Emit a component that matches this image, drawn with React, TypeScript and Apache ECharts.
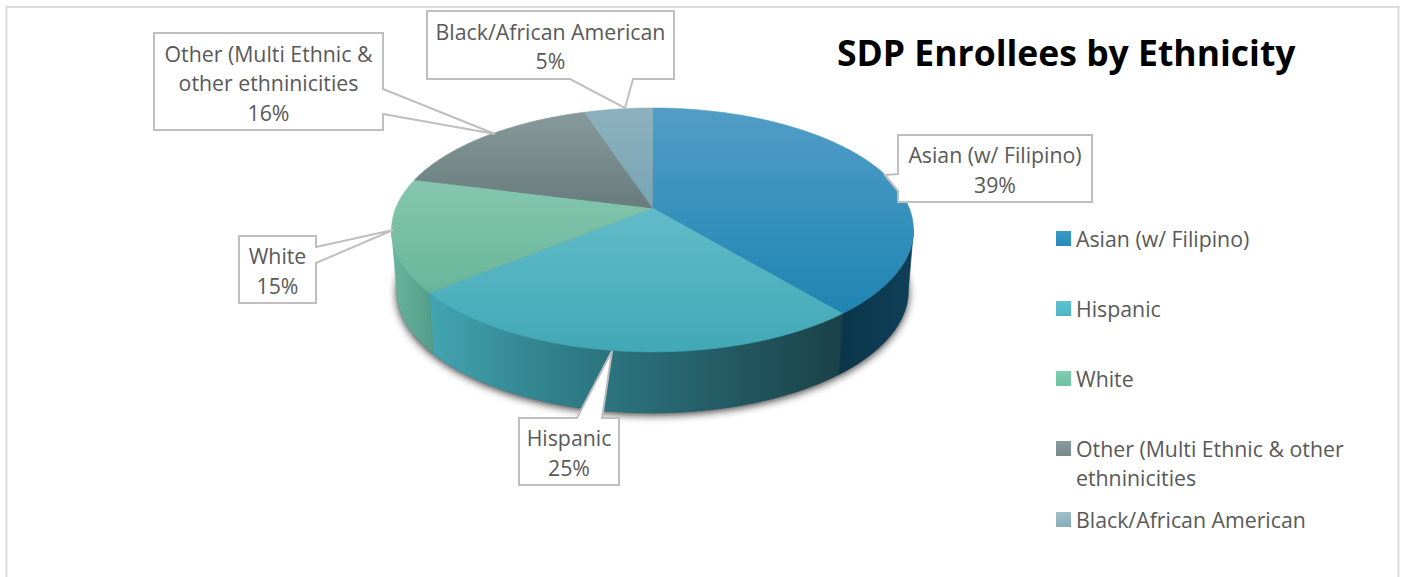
import React, { useEffect, useRef } from "react";
import * as echarts from "echarts";

const chartTitle = "SDP Enrollees by Ethnicity";
const categories = [
  "Asian (w/ Filipino)",
  "Hispanic",
  "White",
  "Other (Multi Ethnic & other ethninicities",
  "Black/African American",
];
const percents = [39, 25, 15, 16, 5];
const calloutLines = [
  ["Asian (w/ Filipino)"],
  ["Hispanic"],
  ["White"],
  ["Other (Multi Ethnic &", "other ethninicities"],
  ["Black/African American"],
];

// Projection of the pie: a tilted disc seen in perspective.
const PIE = { cx: 652.5, cy: 208, a: 256.7, b: 118, p: 0.18, depth: 61, baseScale: 0.98 };
const FONT = '"Open Sans", sans-serif';
const FONT_SIZE = 21.3;
const TEXT_COLOR = "#595959";
const LINE_COLOR = "#bfbfbf";

const topStops = [
  ["#519dc6", "#1f85b3"],
  ["#62bbc8", "#42a8b6"],
  ["#85c7ae", "#68b59b"],
  ["#86999b", "#687c7e"],
  ["#8db0bd", "#78a5b5"],
];
const sideStops: [number, string][][] = [
  [[0, "#0b3549"], [1, "#0f4058"]],
  [[0, "#43a5b1"], [0.3, "#30808b"], [0.6, "#27656f"], [1, "#1a4148"]],
  [[0, "#6ab39c"], [1, "#529d88"]],
  [[0, "#666"], [1, "#666"]],
  [[0, "#666"], [1, "#666"]],
];
const legendStops = [
  ["#3a9bca", "#2a8bb8"],
  ["#5cc3d2", "#4fb5c4"],
  ["#7fceb0", "#6fc2a4"],
  ["#8a9c9e", "#76898b"],
  ["#9dbfca", "#88adba"],
];
const legendTops = [228, 298, 368, 438, 509];

// Callout boxes: rectangle plus the wedge that points at the slice.
const callouts = [
  { x0: 898, y0: 135, x1: 1092, y1: 202, side: "left", w0: 174, w1: 191, tip: [885, 175] },
  { x0: 519, y0: 418, x1: 619, y1: 485, side: "top", w0: 577, w1: 602, tip: [612, 351] },
  { x0: 239, y0: 236, x1: 316, y1: 303, side: "right", w0: 247, w1: 263, tip: [393, 230] },
  { x0: 154, y0: 33, x1: 383, y1: 130, side: "right", w0: 89, w1: 114, tip: [495, 134] },
  { x0: 427, y0: 11, x1: 674, y1: 79, side: "bottom", w0: 570, w1: 633, tip: [625, 108] },
];

const STEP = (2 * Math.PI) / 360;
const FRONT_FROM = Math.PI - Math.acos(PIE.p);
const FRONT_TO = Math.PI + Math.acos(PIE.p);

function rim(theta: number, lower: boolean): number[] {
  const u = Math.sin(theta);
  const v = -Math.cos(theta);
  const d = 1 - PIE.p * v;
  const scale = lower ? PIE.baseScale : 1;
  return [
    PIE.cx + (scale * PIE.a * u) / d,
    PIE.cy + (lower ? PIE.depth : 0) + (PIE.b * v) / d,
  ];
}

function arcPoints(from: number, to: number, lower: boolean): number[][] {
  const out: number[][] = [];
  const n = Math.max(2, Math.ceil((to - from) / STEP));
  for (let i = 0; i <= n; i++) out.push(rim(from + ((to - from) * i) / n, lower));
  return out;
}

function linear(x2: number, y2: number, stops: [number, string][]) {
  return new echarts.graphic.LinearGradient(
    0,
    0,
    x2,
    y2,
    stops.map(([offset, color]) => ({ offset, color }))
  );
}

function sliceSeries(name: string, index: number) {
  const before = percents.slice(0, index).reduce((s, v) => s + v, 0);
  return {
    type: "custom",
    name,
    coordinateSystem: "none",
    silent: true,
    z: 3,
    data: [[percents[index]]],
    itemStyle: { color: legendStops[index][0] },
    renderItem: (_: unknown, api: any) => {
      const start = (before / 100) * 2 * Math.PI;
      const end = ((before + api.value(0)) / 100) * 2 * Math.PI;
      const children: any[] = [];
      const sideFrom = Math.max(start, FRONT_FROM);
      const sideTo = Math.min(end, FRONT_TO);
      if (sideTo > sideFrom) {
        const sideFill = linear(1, 0, sideStops[index]);
        children.push({
          type: "polygon",
          shape: {
            points: [
              ...arcPoints(sideFrom, sideTo, false),
              ...arcPoints(sideFrom, sideTo, true).reverse(),
            ],
          },
          style: { fill: sideFill, stroke: sideFill, lineWidth: 0.6 },
        });
      }
      const topFill = linear(0, 1, [
        [0, topStops[index][0]],
        [1, topStops[index][1]],
      ]);
      children.push({
        type: "polygon",
        shape: { points: [[PIE.cx, PIE.cy], ...arcPoints(start, end, false)] },
        style: { fill: topFill, stroke: topFill, lineWidth: 0.6 },
      });
      return { type: "group", children };
    },
  };
}

// Dark blurred disc under the pie, giving it a soft drop shadow.
const baseSeries = {
  type: "custom",
  name: "base",
  coordinateSystem: "none",
  silent: true,
  z: 1,
  data: [[100]],
  renderItem: (_: unknown, api: any) => ({
    type: "polygon",
    shape: { points: arcPoints(0, (api.value(0) / 100) * 2 * Math.PI, true) },
    style: {
      fill: "#3a3a3a",
      shadowColor: "rgba(0,0,0,0.8)",
      shadowBlur: 8,
      shadowOffsetY: 2,
    },
  }),
};

function calloutGraphic(index: number) {
  const c = callouts[index];
  const tip = c.tip;
  let pts: number[][] = [];
  if (c.side === "left") {
    pts = [[c.x0, c.y0], [c.x1, c.y0], [c.x1, c.y1], [c.x0, c.y1], [c.x0, c.w1], tip, [c.x0, c.w0]];
  } else if (c.side === "right") {
    pts = [[c.x0, c.y0], [c.x1, c.y0], [c.x1, c.w0], tip, [c.x1, c.w1], [c.x1, c.y1], [c.x0, c.y1]];
  } else if (c.side === "top") {
    pts = [[c.x0, c.y0], [c.w0, c.y0], tip, [c.w1, c.y0], [c.x1, c.y0], [c.x1, c.y1], [c.x0, c.y1]];
  } else {
    pts = [[c.x0, c.y0], [c.x1, c.y0], [c.x1, c.y1], [c.w1, c.y1], tip, [c.w0, c.y1], [c.x0, c.y1]];
  }
  return [
    {
      type: "polygon",
      z: 50,
      silent: true,
      shape: { points: pts },
      style: { fill: "#ffffff", stroke: LINE_COLOR, lineWidth: 2 },
    },
    {
      type: "text",
      z: 51,
      silent: true,
      style: {
        text: [...calloutLines[index], `${percents[index]}%`].join("\n"),
        x: (c.x0 + c.x1) / 2,
        y: (c.y0 + c.y1) / 2 + 1,
        align: "center",
        verticalAlign: "middle",
        textAlign: "center",
        textVerticalAlign: "middle",
        fill: TEXT_COLOR,
        font: `${FONT_SIZE}px ${FONT}`,
        lineHeight: 29.5,
      },
    },
  ];
}

export default function App() {
  const ref = useRef<HTMLDivElement>(null);

  useEffect(() => {
    const chart = echarts.init(ref.current!, undefined, { renderer: "svg" });
    chart.setOption({
      animation: false,
      backgroundColor: "#ffffff",
      title: {
        text: chartTitle,
        left: 837,
        top: 34,
        padding: 0,
        textStyle: { fontFamily: FONT, fontSize: 35.5, fontWeight: "bold", color: "#000000" },
      },
      legend: categories.map((name, i) => ({
        show: true,
        orient: "vertical",
        left: 1056,
        top: legendTops[i],
        padding: 0,
        icon: "rect",
        itemWidth: 15,
        itemHeight: 15,
        selectedMode: false,
        formatter: (n: string) => n.replace(" ethninicities", ""),
        textStyle: { fontFamily: FONT, fontSize: FONT_SIZE, color: TEXT_COLOR },
        data: [
          {
            name,
            itemStyle: {
              color: linear(0, 1, [
                [0, legendStops[i][0]],
                [1, legendStops[i][1]],
              ]),
            },
          },
        ],
      })),
      graphic: {
        elements: [
          {
            type: "polyline",
            silent: true,
            shape: { points: [[6.5, 600], [6.5, 7], [1398.5, 7], [1398.5, 600]] },
            style: { fill: "none", stroke: "#dcdcdc", lineWidth: 2 },
          },
          {
            type: "text",
            silent: true,
            style: {
              text: "ethninicities",
              x: 1076,
              y: 477,
              textVerticalAlign: "middle",
              verticalAlign: "middle",
              fill: TEXT_COLOR,
              font: `${FONT_SIZE}px ${FONT}`,
            },
          },
          ...categories.flatMap((_, i) => calloutGraphic(i)),
        ],
      },
      series: [baseSeries, ...categories.map(sliceSeries)],
    });
    return () => chart.dispose();
  }, []);

  return (
    <div
      ref={ref}
      style={{ position: "fixed", left: 0, top: 0, width: 1403, height: 577 }}
    />
  );
}
